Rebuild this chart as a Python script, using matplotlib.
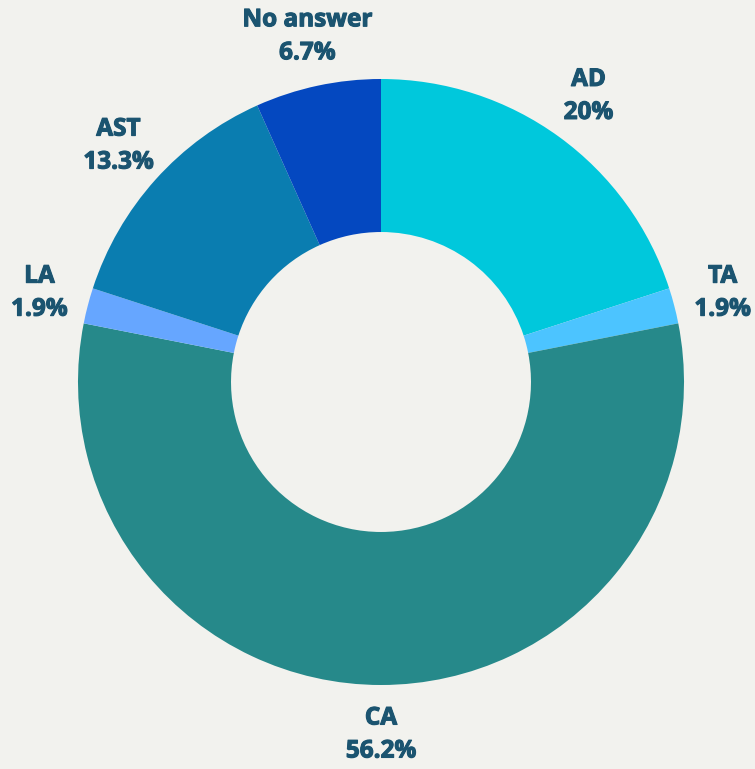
import matplotlib.pyplot as plt
import matplotlib.patheffects as pe

labels = ["AD", "TA", "CA", "LA", "AST", "No answer"]
values = [20, 1.9, 56.2, 1.9, 13.3, 6.7]
pct_text = ["20%", "1.9%", "56.2%", "1.9%", "13.3%", "6.7%"]
colors = ["#00C8DC", "#4CC4FF", "#26898A", "#66A6FF", "#0A7DB0", "#0448C0"]

bg = "#F2F2EE"
text_color = "#1B5470"

fig = plt.figure(figsize=(7.55, 7.69), dpi=100, facecolor=bg)
ax = fig.add_axes([0, 0, 1, 1])
ax.set_facecolor(bg)

wedges, texts = ax.pie(
    values,
    labels=[l + "\n" + p for l, p in zip(labels, pct_text)],
    colors=colors,
    startangle=90,
    counterclock=False,
    radius=1,
    labeldistance=1.165,
    wedgeprops=dict(width=0.505, linewidth=0),
    textprops=dict(color=text_color, fontsize=17.5, fontweight="bold",
                   family=["Open Sans", "DejaVu Sans"], ha="center",
                   va="center", linespacing=1.5),
)
for t in texts:
    t.set_horizontalalignment("center")
    # a bit heavier, like the extra-bold labels of the original
    t.set_path_effects([pe.withStroke(linewidth=0.8, foreground=text_color)])

# pixel-exact placement of the donut
ax.set_aspect("auto")
ax.set_xlim(-381 / 303, (755 - 381) / 303)
ax.set_ylim(-(769 - 382) / 303, 382 / 303)
ax.axis("off")

fig.savefig("out.png", dpi=100, facecolor=bg)
